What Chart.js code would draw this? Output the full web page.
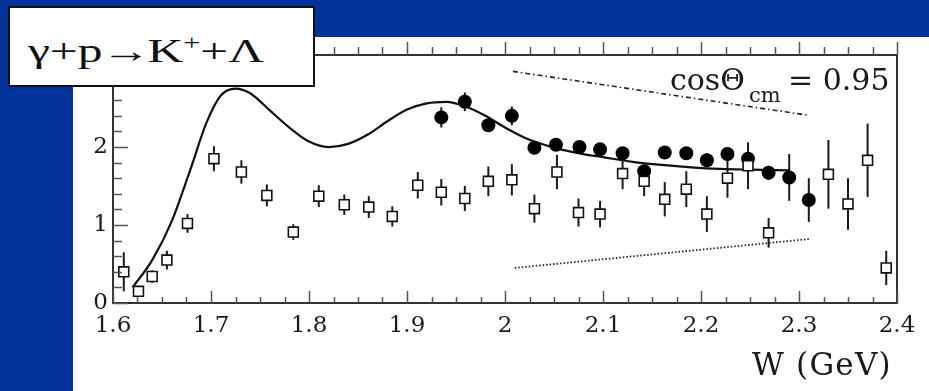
<!DOCTYPE html>
<html>
<head>
<meta charset="utf-8">
<script src="https://cdn.jsdelivr.net/npm/chart.js"></script>
<style>
  html, body { margin: 0; padding: 0; }
  body { width: 929px; height: 391px; background: #02339a; position: relative; overflow: hidden; }
  #panel { position: absolute; left: 73px; top: 37px; right: 0; bottom: 0; background: #fff; }
  #chart { position: absolute; left: 0; top: 0; }
  .txt { position: absolute; font-family: "DejaVu Serif", serif; color: #1a1a1a; white-space: nowrap; }
  #titlebox { position: absolute; left: 8px; top: 6px; width: 307px; height: 81px; box-sizing: border-box;
              background: #fff; border: 2px solid #111; }
  #title { position: absolute; left: 28px; top: 35px; font-family: "Liberation Serif", serif; font-size: 33px;
           line-height: 33px; color: #111; white-space: nowrap; transform: scaleX(1.5); transform-origin: 0 0; }
  #title sup { font-size: 20px; vertical-align: 12px; line-height: 0; }
  #title .arr { margin: 0 -2px 0 -1px; }
</style>
</head>
<body>
<div id="panel"></div>
<canvas id="chart" width="929" height="391"></canvas>
<div id="titlebox"></div>
<div id="title">&gamma;+p<span class="arr">&rarr;</span>K<sup>+</sup>+&Lambda;</div>
<span class="txt" style="left:670px; top:65px; font-size:30px; line-height:30px;">cos&Theta;</span>
<span class="txt" style="left:749px; top:85px; font-size:21px; line-height:21px;">cm</span>
<span class="txt" style="left:788px; top:65px; font-size:30px; line-height:30px;">= 0.95</span>
<span class="txt" style="left:752px; top:349px; font-size:31px; line-height:31px; letter-spacing:1.2px;">W (GeV)</span>
<script>
// model curve
const curveW = [1.620, 1.640, 1.660, 1.680, 1.695, 1.710, 1.725, 1.740, 1.760, 1.780, 1.800, 1.820,
                1.840, 1.860, 1.880, 1.900, 1.920, 1.940, 1.960, 1.980, 2.000, 2.020, 2.040, 2.060,
                2.080, 2.100, 2.130, 2.160, 2.190, 2.220, 2.250, 2.290];
const curveY = [0.20, 0.55, 1.05, 1.75, 2.30, 2.66, 2.75, 2.69, 2.47, 2.25, 2.07, 2.00,
                2.04, 2.16, 2.33, 2.48, 2.56, 2.58, 2.52, 2.40, 2.25, 2.12, 2.03, 1.96,
                1.91, 1.87, 1.81, 1.77, 1.74, 1.72, 1.71, 1.70];

// filled circles
const lamW = [1.935, 1.959, 1.983, 2.007, 2.030, 2.052, 2.076, 2.097, 2.120, 2.142, 2.163, 2.185,
              2.206, 2.227, 2.248, 2.269, 2.290, 2.310];
const lamY = [2.38, 2.58, 2.28, 2.40, 1.99, 2.03, 2.00, 1.97, 1.92, 1.69, 1.93, 1.92,
              1.83, 1.91, 1.85, 1.67, 1.61, 1.32];
const lamErr = [0.13, 0.12, 0.08, 0.12, 0.08, 0.08, 0.07, 0.07, 0.08, 0.08, 0.08, 0.08,
                0.09, 0.09, 0.09, 0.09, 0.30, 0.28];

// open squares
const sigW = [1.611, 1.626, 1.640, 1.655, 1.676, 1.703, 1.731, 1.757, 1.784, 1.810, 1.836, 1.861,
              1.885, 1.911, 1.935, 1.959, 1.983, 2.007, 2.030, 2.053, 2.075, 2.097, 2.120, 2.142,
              2.163, 2.185, 2.206, 2.227, 2.248, 2.269, 2.330, 2.350, 2.370, 2.389];
const sigY = [0.40, 0.15, 0.34, 0.55, 1.02, 1.85, 1.68, 1.38, 0.91, 1.37, 1.26, 1.23,
              1.11, 1.51, 1.42, 1.34, 1.56, 1.58, 1.21, 1.68, 1.16, 1.14, 1.66, 1.56,
              1.33, 1.46, 1.14, 1.60, 1.76, 0.90, 1.65, 1.27, 1.83, 0.45];
const sigErr = [0.25, 0.07, 0.08, 0.12, 0.12, 0.16, 0.15, 0.14, 0.10, 0.14, 0.13, 0.14,
                0.13, 0.17, 0.17, 0.16, 0.19, 0.20, 0.18, 0.22, 0.18, 0.17, 0.20, 0.19,
                0.22, 0.23, 0.23, 0.25, 0.30, 0.19, 0.44, 0.33, 0.47, 0.22];

// the two straight guide lines
const dashW = [2.008, 2.308];
const dashY = [2.97, 2.41];
const dotW = [2.010, 2.310];
const dotY = [0.45, 0.82];

const xTicks = [1.6, 1.7, 1.8, 1.9, 2.0, 2.1, 2.2, 2.3, 2.4];
const xTickLabels = ["1.6", "1.7", "1.8", "1.9", "2", "2.1", "2.2", "2.3", "2.4"];
const yTicks = [0, 1, 2, 3];
const yTickLabels = ["0", "1", "2", "3"];

const pts = (xs, ys) => xs.map((x, i) => ({ x: x, y: ys[i] }));

// vertical error bars, drawn under the markers
const errorBars = {
  id: "errorBars",
  beforeDatasetsDraw(chart) {
    const { ctx, scales: { x, y } } = chart;
    ctx.save();
    ctx.strokeStyle = "#1a1a1a";
    ctx.lineWidth = 2;
    chart.data.datasets.forEach((ds) => {
      if (!ds.errs) return;
      ds.data.forEach((p, i) => {
        const px = x.getPixelForValue(p.x);
        ctx.beginPath();
        ctx.moveTo(px, y.getPixelForValue(p.y - ds.errs[i]));
        ctx.lineTo(px, y.getPixelForValue(p.y + ds.errs[i]));
        ctx.stroke();
      });
    });
    ctx.restore();
  },
};

// frame and inside tick marks like the ROOT plot
const frame = {
  id: "frame",
  afterDraw(chart) {
    const { ctx, chartArea: a, scales: { x, y } } = chart;
    ctx.save();
    ctx.strokeStyle = "#333";
    ctx.lineWidth = 2;
    ctx.strokeRect(a.left, a.top, a.right - a.left, a.bottom - a.top);
    ctx.lineWidth = 1.5;
    ctx.strokeStyle = "#555";
    ctx.beginPath();
    for (let i = 0; i <= 32; i++) {
      const px = Math.round(x.getPixelForValue(1.6 + i * 0.025)) + 0.5;
      const major = i % 4 === 0;
      ctx.moveTo(px, a.bottom);
      ctx.lineTo(px, a.bottom - (major ? 12 : 6));
      ctx.moveTo(px, a.top);
      ctx.lineTo(px, a.top - (major ? 13 : 8));
    }
    for (let i = 0; i <= 15; i++) {
      const py = Math.round(y.getPixelForValue(i * 0.2)) + 0.5;
      if (py < a.top) break;
      const major = i % 5 === 0;
      ctx.moveTo(a.left, py);
      ctx.lineTo(a.left + (major ? 15 : 9), py);
    }
    ctx.stroke();
    ctx.restore();
  },
};

const ctx = document.getElementById("chart").getContext("2d");

new Chart(ctx, {
  type: "scatter",
  data: {
    datasets: [
      {
        label: "open",
        data: pts(sigW, sigY),
        errs: sigErr,
        pointStyle: "rect",
        pointRadius: 7,
        backgroundColor: "#fff",
        borderColor: "#111",
        borderWidth: 1.6,
        order: 0,
      },
      {
        label: "filled",
        data: pts(lamW, lamY),
        errs: lamErr,
        pointStyle: "circle",
        pointRadius: 7,
        backgroundColor: "#000",
        borderColor: "#000",
        borderWidth: 0,
        order: 1,
      },
      {
        type: "line",
        label: "model",
        data: pts(curveW, curveY),
        borderColor: "#111",
        borderWidth: 2.2,
        pointRadius: 0,
        cubicInterpolationMode: "monotone",
        order: 2,
      },
      {
        type: "line",
        label: "upper",
        data: pts(dashW, dashY),
        borderColor: "#222",
        borderWidth: 1.6,
        borderDash: [5, 3, 1.5, 3],
        pointRadius: 0,
        order: 3,
      },
      {
        type: "line",
        label: "lower",
        data: pts(dotW, dotY),
        borderColor: "#222",
        borderWidth: 1.8,
        borderDash: [1.5, 2],
        pointRadius: 0,
        order: 4,
      },
    ],
  },
  options: {
    responsive: false,
    animation: false,
    devicePixelRatio: 1,
    layout: { padding: { left: 73, top: 55, right: 32, bottom: 28 } },
    plugins: {
      legend: { display: false },
      tooltip: { enabled: false },
    },
    scales: {
      x: {
        type: "linear",
        min: 1.6,
        max: 2.4,
        afterBuildTicks: (s) => { s.ticks = xTicks.map((v) => ({ value: v })); },
        afterFit: (s) => { s.height = 60; },
        grid: { display: false, drawTicks: false },
        border: { display: false },
        ticks: {
          autoSkip: false,
          maxRotation: 0,
          padding: 9,
          color: "#1a1a1a",
          font: { family: "DejaVu Serif", size: 23 },
          callback: (v, i) => xTickLabels[i],
        },
      },
      y: {
        type: "linear",
        min: 0,
        max: 3.18,
        afterBuildTicks: (s) => { s.ticks = yTicks.map((v) => ({ value: v })); },
        afterFit: (s) => { s.width = 40; },
        grid: { display: false, drawTicks: false },
        border: { display: false },
        ticks: {
          padding: 5,
          color: "#1a1a1a",
          font: { family: "DejaVu Serif", size: 23 },
          callback: (v, i) => yTickLabels[i],
        },
      },
    },
  },
  plugins: [errorBars, frame],
});
</script>
</body>
</html>
